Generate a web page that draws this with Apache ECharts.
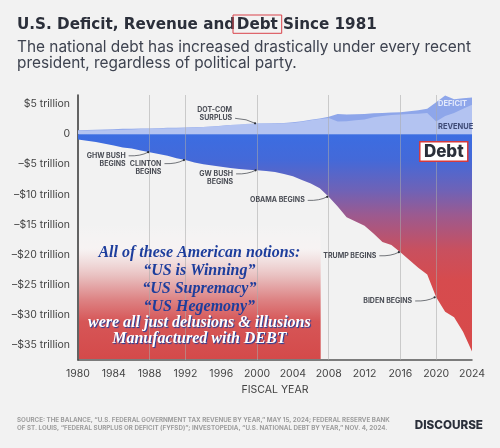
<!DOCTYPE html>
<html><head><meta charset="utf-8">
<script src="https://cdn.jsdelivr.net/npm/echarts@6/dist/echarts.min.js"></script>
<style>html,body{margin:0;padding:0;background:#f2f2f2}#c{width:500px;height:448px}</style>
</head><body><div id="c"></div>
<script>
// ---- data (trillions of dollars) ----
const years = [1980,1981,1982,1983,1984,1985,1986,1987,1988,1989,1990,1991,1992,1993,1994,1995,1996,1997,1998,1999,2000,2001,2002,2003,2004,2005,2006,2007,2008,2009,2010,2011,2012,2013,2014,2015,2016,2017,2018,2019,2020,2021,2022,2023,2024];
const spending = [0.65,0.68,0.72,0.78,0.82,0.88,0.9,0.92,0.95,1.0,1.05,1.08,1.1,1.15,1.2,1.28,1.38,1.5,1.58,1.65,1.72,1.76,1.82,1.87,1.97,2.15,2.4,2.6,2.9,3.35,3.25,3.3,3.35,3.45,3.5,3.6,3.65,3.8,3.95,4.2,5.3,6.4,5.8,5.95,6.1];
const revenue = [0.6,0.62,0.63,0.64,0.68,0.74,0.77,0.85,0.9,0.95,0.98,1.0,1.04,1.1,1.17,1.25,1.36,1.5,1.62,1.74,1.8,1.8,1.78,1.8,1.85,2.05,2.3,2.5,2.7,2.1,2.15,2.3,2.45,2.8,3.0,3.2,3.25,3.35,3.4,3.5,2.1,3.0,3.5,4.2,4.9];
const debt = [-0.9,-1.1,-1.3,-1.6,-1.9,-2.2,-2.4,-2.7,-3.0,-3.3,-3.6,-4.0,-4.3,-4.7,-5.0,-5.2,-5.4,-5.6,-5.8,-5.9,-6.0,-6.1,-6.3,-6.6,-7.0,-7.6,-8.2,-9.0,-10.4,-12.0,-13.8,-14.5,-15.2,-16.5,-17.9,-18.4,-19.6,-20.9,-22.2,-23.3,-27.1,-29.5,-30.4,-32.8,-36.1];
const yTicks = [5,0,-5,-10,-15,-20,-25,-30,-35];
const gridYears = [1988,1992,2000,2008,2016,2020];
const presidents = [
  {lines:['GHW BUSH','BEGINS'], year:1988},
  {lines:['CLINTON','BEGINS'], year:1992},
  {lines:['GW BUSH','BEGINS'], year:2000},
  {lines:['OBAMA BEGINS'], year:2008},
  {lines:['TRUMP BEGINS'], year:2016},
  {lines:['BIDEN BEGINS'], year:2020}
];
const titleParts = ['U.S. Deficit, Revenue and', 'Debt', 'Since 1981'];
const subtitle = 'The national debt has increased drastically under every recent\npresident, regardless of political party.';
const overlayLines = ['All of these American notions:','\u201cUS is Winning\u201d','\u201cUS Supremacy\u201d','\u201cUS Hegemony\u201d','were all just delusions & illusions','Manufactured with DEBT'];
const sourceText = 'SOURCE: THE BALANCE, \u201cU.S. FEDERAL GOVERNMENT TAX REVENUE BY YEAR,\u201d MAY 15, 2024; FEDERAL RESERVE BANK\nOF ST. LOUIS, \u201cFEDERAL SURPLUS OR DEFICIT (FYFSD)\u201d; INVESTOPEDIA, \u201cU.S. NATIONAL DEBT BY YEAR,\u201d NOV. 4, 2024.';

const SANS = 'Inter, "Open Sans", sans-serif';
const TITLE = '"DejaVu Sans", Inter, sans-serif';
const SERIF = '"Liberation Serif", "DejaVu Serif", serif';
const pair = arr => years.map((y,i)=>[y,arr[i]]);
const fmtY = v => v === 0 ? '0' : (v > 0 ? '$' + v + ' trillion' : '\u2013$' + (-v) + ' trillion');

const chart = echarts.init(document.getElementById('c'));
chart.setOption({
  backgroundColor:'#f2f2f2',
  animation:false,
  title:[
    {left:12, top:35, text:subtitle,
     textStyle:{fontFamily:SANS, fontWeight:400, fontSize:15.4, color:'#3e4350', lineHeight:15.5}}
  ],
  grid:{left:78, right:28, top:95, bottom:88},
  xAxis:{type:'value', min:1980, max:2024, interval:4,
    axisLine:{onZero:false, lineStyle:{color:'#555', width:1.5}},
    axisTick:{show:false}, splitLine:{show:false},
    axisLabel:{color:'#444', fontFamily:SANS, fontSize:10.5, margin:8, formatter:v=>String(v)},
    name:'FISCAL YEAR', nameLocation:'middle', nameGap:24,
    nameTextStyle:{color:'#444', fontFamily:SANS, fontSize:10.5}},
  yAxis:{type:'value', min:-37.5, max:6.5,
    axisLine:{show:true, lineStyle:{color:'#333', width:1.5}},
    axisTick:{show:false, customValues:yTicks}, splitLine:{show:false},
    axisLabel:{customValues:yTicks, color:'#444', fontFamily:SANS, fontSize:10.5, margin:8, formatter:fmtY}},
  series:[
    {name:'Spending', type:'line', data:pair(spending), symbol:'none', lineStyle:{width:0},
     areaStyle:{color:'#8ea6ea', opacity:1}, z:2},
    {name:'Revenue', type:'line', data:pair(revenue), symbol:'none', lineStyle:{width:0},
     areaStyle:{color:'#b3c3f1', opacity:1}, z:3},
    {name:'Debt', type:'line', data:pair(debt), symbol:'none', lineStyle:{width:0},
     areaStyle:{opacity:1, color:{type:'linear', x:0, y:0, x2:0, y2:1, colorStops:[
       {offset:0, color:'#3b6de2'},{offset:0.12, color:'#4469d8'},{offset:0.26, color:'#6f62b6'},
       {offset:0.37, color:'#9b5a90'},{offset:0.53, color:'#c8505f'},{offset:0.67, color:'#d64b4e'},{offset:1, color:'#d84a4a'}]}},
     z:4,
     markLine:{silent:true, symbol:['none','none'], label:{show:false},
       lineStyle:{color:'rgba(170,170,170,0.55)', type:'solid', width:1},
       data:gridYears.map(y=>({xAxis:y}))}}
  ]
});

// ---- annotations positioned from the data scales ----
const px = (x,y) => chart.convertToPixel({gridIndex:0}, [x,y]);
const g = [];
// title with boxed "Debt"
const tFont = {fontFamily:TITLE, fontWeight:'bold', fontSize:15.2, fill:'#2b2f3a'};
g.push({type:'text', z:20, style:Object.assign({text:titleParts[0], x:17, y:25, align:'left', verticalAlign:'middle'}, tFont)});
g.push({type:'rect', z:20, shape:{x:233, y:15, width:48.7, height:18.3}, style:{fill:null, stroke:'#d9434a', lineWidth:1}});
g.push({type:'text', z:20, style:Object.assign({text:titleParts[1], x:257.3, y:25, align:'center', verticalAlign:'middle'}, tFont)});
g.push({type:'text', z:20, style:Object.assign({text:titleParts[2], x:283, y:25, align:'left', verticalAlign:'middle'}, tFont)});

const annFont = {fontFamily:SANS, fontWeight:700, fontSize:7, fill:'#4a4d55'};
function arrow(sx,sy,tx,ty){
  g.push({type:'bezierCurve', z:20, shape:{x1:sx,y1:sy,x2:tx,y2:ty,cpx1:(sx+tx)/2+2,cpy1:sy+0.5},
    style:{stroke:'#3a3d45', lineWidth:0.7, fill:null}});
  g.push({type:'circle', z:20, shape:{cx:tx,cy:ty,r:1.1}, style:{fill:'#2a2d35'}});
}
presidents.forEach(p=>{
  const i = years.indexOf(p.year);
  const [tx,ty] = px(p.year, debt[i]);
  const sx = tx-21, sy = ty+3.6;
  arrow(sx,sy,tx-1.5,ty);
  g.push({type:'text', z:20, style:Object.assign({text:p.lines.join('\n'), x:tx-24, y:sy-4.25, align:'right', verticalAlign:'top', lineHeight:8.5}, annFont)});
});
// dot-com surplus
(function(){
  const i = years.indexOf(2000);
  const [tx,ty] = px(2000, revenue[i]);
  const sx = tx-22, sy = ty-5;
  arrow(sx,sy,tx-2,ty);
  g.push({type:'text', z:20, style:Object.assign({text:'DOT-COM\nSURPLUS', x:tx-25, y:sy-12.75, align:'right', verticalAlign:'top', lineHeight:8.5}, annFont)});
})();
// series labels
(function(){
  const [dx,dy] = px(2020.2, 5.0);
  g.push({type:'text', z:20, style:{text:'DEFICIT', x:dx, y:dy, align:'left', verticalAlign:'middle', fontFamily:SANS, fontWeight:700, fontSize:7.5, fill:'#e3e9fb'}});
  const [rx,ry] = px(2020.2, 1.15);
  g.push({type:'text', z:20, style:{text:'REVENUE', x:rx, y:ry, align:'left', verticalAlign:'middle', fontFamily:SANS, fontWeight:700, fontSize:7.5, fill:'#3e4a75'}});
  const [bx,by] = px(2020.85, -2.85);
  g.push({type:'rect', z:20, shape:{x:bx-24, y:by-9.5, width:48, height:19.5}, style:{fill:'#ffffff', stroke:'#d4393d', lineWidth:1.5}});
  g.push({type:'text', z:21, style:{text:'Debt', x:bx, y:by+0.5, align:'center', verticalAlign:'middle', fontFamily:SANS, fontWeight:800, fontSize:17, fill:'#2a2f3a'}});
})();
// overlay box
(function(){
  const [x0,yb] = px(1980, -37.5);
  const [x1] = px(2007.1, 0);
  const top = 225;
  g.push({type:'rect', z:1, shape:{x:x0+1, y:top, width:x1-x0-1, height:yb-top-1},
    style:{fill:{type:'linear', x:0, y:0, x2:0, y2:1, colorStops:[
      {offset:0, color:'rgba(250,246,246,0)'},{offset:0.18, color:'rgba(248,243,243,0.8)'},
      {offset:0.38, color:'#e9c0c0'},{offset:0.56, color:'#dd8283'},{offset:0.72, color:'#d65657'},{offset:1, color:'#d44a4a'}]}}});
  const cx = (x0+x1)/2;
  const ys = [253.3, 271, 289, 307, 322.5, 338.5];
  overlayLines.forEach((t,k)=>{
    const white = k >= 4;
    g.push({type:'text', z:30, style:{text:t, x:cx, y:ys[k], align:'center', verticalAlign:'middle',
      fontFamily:SERIF, fontStyle:'italic', fontWeight:700, fontSize:16,
      fill: white ? '#ffffff' : '#1d3d9c',
      textShadowColor: white ? '#1d3d9c' : '#ffffff', textShadowOffsetX:1, textShadowOffsetY:1, textShadowBlur: white ? 1 : 0}});
  });
})();
// footer
g.push({type:'text', z:20, x:17, y:416, scaleX:1.04, scaleY:1.05,
  style:{text:sourceText, x:0, y:0, align:'left', verticalAlign:'top', lineHeight:8, fontFamily:SANS, fontWeight:700, fontSize:6, fill:'#9d9d9d'}});
g.push({type:'text', z:20, style:{text:'DISCOURSE', x:483, y:425, align:'right', verticalAlign:'middle', fontFamily:SANS, fontWeight:800, fontSize:11.7, fill:'#2a2f3a'}});
chart.setOption({graphic:g});
</script></body></html>
